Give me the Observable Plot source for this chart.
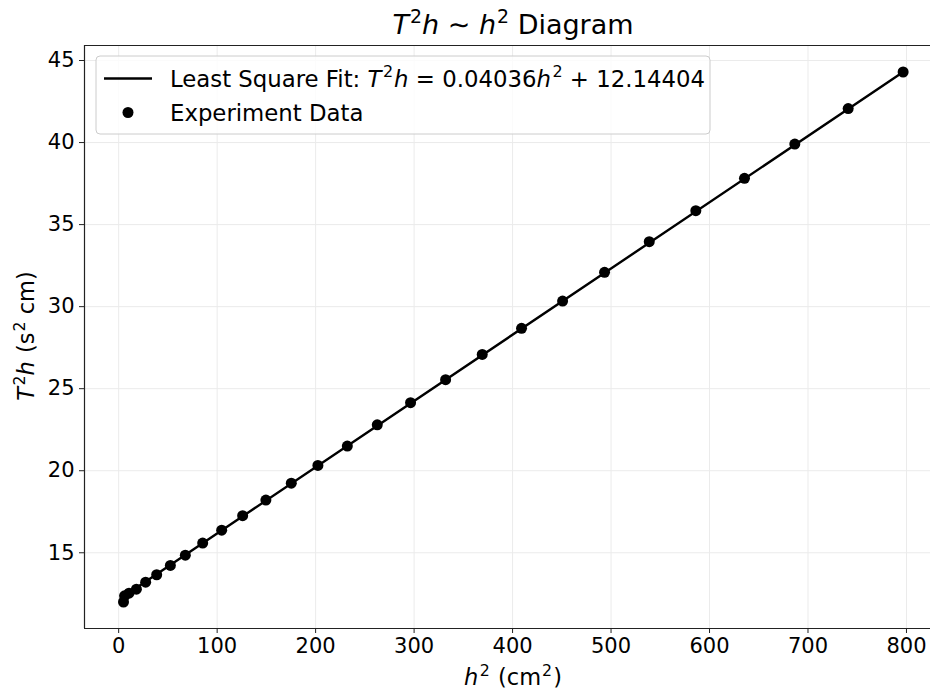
<!DOCTYPE html>
<html><head><meta charset="utf-8">
<script src="https://cdn.jsdelivr.net/npm/d3@7"></script>
<script src="https://cdn.jsdelivr.net/npm/@observablehq/plot@0.6"></script>
<style>body{margin:0;background:#fff} svg{display:block}</style>
</head><body><div id="chart"></div>
<script>
const h2 = [4.9, 6.0, 10.5, 18.0, 27.4, 38.6, 52.5, 67.7, 85.3, 104.6, 125.9, 149.5, 175.3, 202.3, 232.2, 262.6, 296.4, 332.0, 369.2, 409.1, 450.8, 493.4, 538.8, 586.1, 635.5, 686.6, 740.8, 796.6];
const T2h = [12.0, 12.38, 12.54, 12.78, 13.21, 13.66, 14.23, 14.85, 15.59, 16.38, 17.26, 18.21, 19.24, 20.32, 21.50, 22.80, 24.15, 25.55, 27.09, 28.68, 30.34, 32.09, 33.96, 35.85, 37.82, 39.91, 42.07, 44.30];
const xTicks = [0, 100, 200, 300, 400, 500, 600, 700, 800];
const yTicks = [15, 20, 25, 30, 35, 40, 45];
const fitSlope = 0.04036;
const fitIntercept = 12.14404;

const fitX = [h2[0], h2[h2.length - 1]];
const fit = fitX.map(x => ({x, y: fitSlope * x + fitIntercept}));
const pts = h2.map((x, i) => ({x, y: T2h[i]}));
const xDom = [-34.7, 824.4];
const yDom = [10.385, 45.915];
const FS = 21;

const chart = Plot.plot({
  width: 930, height: 691,
  marginLeft: 84, marginRight: 0, marginTop: 45, marginBottom: 63,
  style: `font-family: 'DejaVu Sans', sans-serif; font-size: ${FS}px; color: #000; background: #fff; overflow: visible;`,
  x: {domain: xDom, label: null},
  y: {domain: yDom, label: null},
  marks: [
    Plot.gridX(xTicks, {stroke: "#ebebeb", strokeOpacity: 1, strokeWidth: 1}),
    Plot.gridY(yTicks, {stroke: "#ebebeb", strokeOpacity: 1, strokeWidth: 1}),
    Plot.line(fit, {x: "x", y: "y", stroke: "#000", strokeWidth: 2.4}),
    Plot.dot(pts, {x: "x", y: "y", r: 5.5, fill: "#000", stroke: "none"}),
    Plot.ruleX([xDom[0]], {stroke: "#222", strokeWidth: 1.2}),
    Plot.ruleY(yDom, {stroke: "#222", strokeWidth: 1.2}),
    Plot.axisX({ticks: xTicks, tickSize: 5, tickPadding: 5, fontSize: FS, label: null, stroke: "#222"}),
    Plot.axisY({ticks: yTicks, tickSize: 5, tickPadding: 5, fontSize: FS, label: null, stroke: "#222"})
  ]
});
document.getElementById("chart").appendChild(chart);

const svg = d3.select(chart);
function rich(x, y, parts, fs, opts = {}) {
  const t = svg.append("text")
    .attr("x", x).attr("y", y)
    .attr("font-size", fs)
    .attr("font-family", "'DejaVu Sans', sans-serif")
    .attr("fill", "#000")
    .attr("text-anchor", opts.anchor || "start");
  if (opts.transform) t.attr("transform", opts.transform);
  let up = false;
  const sh = fs * 0.42;
  parts.forEach(p => {
    const s = t.append("tspan").text(p.t);
    if (p.i) s.attr("font-style", "italic");
    if (p.dx !== undefined) s.attr("dx", p.dx);
    if (p.sup) {
      s.attr("font-size", fs * 0.7);
      if (!up) { s.attr("dy", -sh); up = true; }
    } else if (up) {
      s.attr("dy", sh); up = false;
    }
  });
  return t;
}

// Title
rich(513, 34, [
  {t: "T", i: 1}, {t: "2", sup: 1, dx: 1}, {t: "h", i: 1}, {t: " ∼ "}, {t: "h", i: 1}, {t: "2", sup: 1, dx: 1}, {t: " Diagram"}
], 27, {anchor: "middle"});

const LFS = 22.5;
// X label
rich(513, 685, [
  {t: "h", i: 1}, {t: "2", sup: 1, dx: 1.5}, {t: " (cm", dx: 1}, {t: "2", sup: 1, dx: 1}, {t: ")", dx: 1}
], LFS, {anchor: "middle"});

// Y label
rich(0, 0, [
  {t: "T", i: 1}, {t: "2", sup: 1, dx: 1.5}, {t: "h", i: 1}, {t: " (s", dx: 1}, {t: "2", sup: 1, dx: 1}, {t: " cm)"}
], LFS, {anchor: "middle", transform: "translate(34,336) rotate(-90)"});

// Legend
const GFS = 22.8;
const lg = svg.append("g");
lg.append("rect").attr("x", 96).attr("y", 56).attr("width", 614).attr("height", 78)
  .attr("rx", 4).attr("fill", "#fff").attr("fill-opacity", 0.8)
  .attr("stroke", "#cccccc").attr("stroke-width", 1);
lg.append("line").attr("x1", 104).attr("x2", 152).attr("y1", 78.5).attr("y2", 78.5)
  .attr("stroke", "#000").attr("stroke-width", 2.4);
lg.append("circle").attr("cx", 128).attr("cy", 112.5).attr("r", 5.5).attr("fill", "#000");
rich(170, 86.5, [
  {t: "Least Square Fit: "}, {t: "T", i: 1}, {t: "2", sup: 1, dx: 1.5}, {t: "h", i: 1, dx: 1},
  {t: " = 0.04036"}, {t: "h", i: 1}, {t: "2", sup: 1, dx: 1.5}, {t: " + 12.14404"}
], GFS);
rich(170, 120.5, [{t: "Experiment Data"}], GFS);
</script>
</body></html>
